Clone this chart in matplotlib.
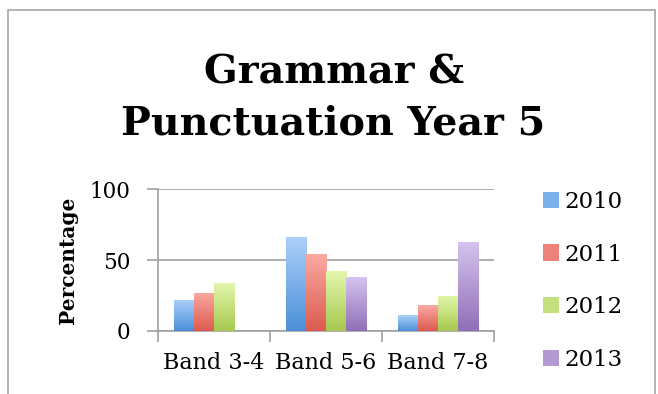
import numpy as np
import matplotlib.pyplot as plt
from matplotlib.colors import LinearSegmentedColormap, to_rgb
from matplotlib.patches import Rectangle

# Data
bands = ['Band 3-4', 'Band 5-6', 'Band 7-8']
years = ['2010', '2011', '2012', '2013']
pct_2010 = [22, 66, 11]
pct_2011 = [27, 54, 18]
pct_2012 = [34, 42, 25]
pct_2013 = [np.nan, 38, 63]

# top (light) / bottom (dark) colour of each series gradient
shades = [('#acd0fa', '#4b8fd8'),
          ('#fbaaa2', '#dc5a4f'),
          ('#e4f7ac', '#a6c94f'),
          ('#d6c4ef', '#8f6fb6')]

serif = ['DejaVu Serif']

fig = plt.figure(figsize=(6.58, 3.94), dpi=100)
ax = fig.add_axes([0.240, 0.160, 0.511, 0.360])

# outer chart border
fig.patches.append(Rectangle((8 / 658, -0.05), 647 / 658, 1.05 - 10 / 394,
                             transform=fig.transFigure, fill=False,
                             edgecolor='#a6a6a6', lw=1.2))

x = np.arange(len(bands))
w = 0.18
series = [pct_2010, pct_2011, pct_2012, pct_2013]
grad = np.linspace(0, 1, 256).reshape(-1, 1)
handles = []
for i, vals in enumerate(series):
    top, bottom = shades[i]
    cmap = LinearSegmentedColormap.from_list('g%d' % i, [bottom, top])
    bars = ax.bar(x + (i - 1.5) * w, vals, w, color=bottom, lw=0, zorder=2)
    handles.append(bars)
    for b, v in zip(bars, vals):
        if np.isnan(v):
            continue
        bx, by = b.get_x(), b.get_y()
        im = ax.imshow(grad, extent=[bx, bx + w, by, by + v], origin='lower',
                       cmap=cmap, aspect='auto', zorder=3)
        im.set_clip_path(b)

ax.set_xlim(-0.5, 2.5)
ax.set_ylim(0, 100)
ax.set_yticks([0, 50, 100])
ax.set_xticks(x)
ax.set_xticklabels(bands, fontsize=16, family=serif)
ax.set_xticks([-0.5, 0.5, 1.5, 2.5], minor=True)
ax.tick_params(axis='x', which='major', length=0, pad=15)
ax.tick_params(axis='x', which='minor', length=8, color='#a0a0a0', width=1.2)
ax.tick_params(axis='y', length=8, color='#a0a0a0', width=1.2, pad=12,
               labelsize=15.5)
for lab in ax.get_yticklabels():
    lab.set_family(serif)
ax.grid(axis='y', color='#a0a0a0', lw=1.2, zorder=0)
for s in ['top', 'right']:
    ax.spines[s].set_visible(False)
for s in ['left', 'bottom']:
    ax.spines[s].set_color('#a0a0a0')
    ax.spines[s].set_linewidth(1.2)
ax.set_ylabel('Percentage', fontsize=14.5, fontweight='bold', family=serif,
              labelpad=8)

fig.text(0.507, 0.752, 'Grammar &\nPunctuation Year 5', ha='center',
         va='center', fontsize=28.5, fontweight='bold', family=serif,
         linespacing=1.42)

# legend swatches
leg = fig.legend([h[0] for h in handles], years, loc='upper left',
                 bbox_to_anchor=(0.794, 0.568), frameon=False,
                 prop={'family': serif, 'size': 16.5}, handlelength=0.7,
                 handleheight=0.7, handletextpad=0.22, labelspacing=1.34)
for patch, (top, bottom) in zip(leg.get_patches(), shades):
    mid = [(a + b) / 2 for a, b in zip(to_rgb(top), to_rgb(bottom))]
    patch.set_facecolor(mid)

fig.savefig('out.png', dpi=100)
